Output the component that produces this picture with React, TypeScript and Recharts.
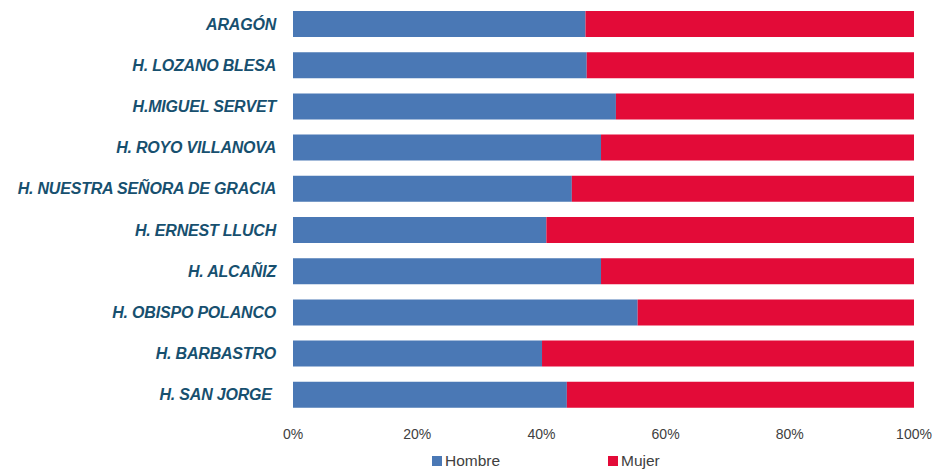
import React from 'react';
import { BarChart, Bar, XAxis, YAxis, Legend } from 'recharts';

const hospitals = [
  'ARAGÓN',
  'H. LOZANO BLESA',
  'H.MIGUEL SERVET',
  'H. ROYO VILLANOVA',
  'H. NUESTRA SEÑORA DE GRACIA',
  'H. ERNEST LLUCH',
  'H. ALCAÑIZ',
  'H. OBISPO POLANCO',
  'H. BARBASTRO',
  'H. SAN JORGE ',
];

const hombrePct = [47.1, 47.3, 52.0, 49.6, 44.9, 40.8, 49.6, 55.5, 40.1, 44.1];
const mujerPct = hombrePct.map((v) => Math.round((100 - v) * 10) / 10);

const xTicks = [0, 20, 40, 60, 80, 100];

const data = hospitals.map((name, i) => ({
  name,
  Hombre: hombrePct[i],
  Mujer: mujerPct[i],
}));

const BLUE = '#4a78b5';
const RED = '#e30b38';
const LABEL = '#17506f';
const FONT = '"Liberation Sans", Arial, sans-serif';

const HospitalTick = (props: any) => {
  const { x, y, payload } = props;
  return (
    <text
      x={x}
      y={y}
      dy={6}
      textAnchor="end"
      fill={LABEL}
      fontFamily={FONT}
      fontSize={16}
      fontWeight="bold"
      fontStyle="italic"
      letterSpacing={-0.2}
      style={{ whiteSpace: 'pre' }}
    >
      {payload.value}
    </text>
  );
};

const LegendContent = () => (
  <div style={{ position: 'relative', height: 25, fontFamily: FONT, fontSize: 15.5, color: '#404040' }}>
    {[
      { label: 'Hombre', color: BLUE, left: 432 },
      { label: 'Mujer', color: RED, left: 608 },
    ].map((item) => (
      <div key={item.label} style={{ position: 'absolute', left: item.left, top: 7, display: 'flex', alignItems: 'center' }}>
        <span style={{ display: 'inline-block', width: 10, height: 10, background: item.color, marginRight: 3 }} />
        <span>{item.label}</span>
      </div>
    ))}
  </div>
);

const App: React.FC = () => {
  return (
    <div style={{ position: 'absolute', left: 0, top: 0, width: 934, height: 470, background: '#fff' }}>
      <BarChart
        width={934}
        height={470}
        data={data}
        layout="vertical"
        stackOffset="expand"
        barSize={26}
        margin={{ top: 3, right: 20, left: 0, bottom: 0 }}
      >
        <XAxis
          type="number"
          domain={[0, 1]}
          ticks={xTicks.map((t) => t / 100)}
          tickFormatter={(v: number) => `${Math.round(v * 100)}%`}
          axisLine={false}
          tickLine={false}
          tick={{ fill: '#404040', fontSize: 14, fontFamily: FONT }}
          tickMargin={8}
          height={30}
        />
        <YAxis
          type="category"
          dataKey="name"
          width={293}
          axisLine={false}
          tickLine={false}
          tickSize={0}
          tickMargin={17}
          interval={0}
          tick={<HospitalTick />}
        />
        <Legend verticalAlign="bottom" height={25} content={<LegendContent />} wrapperStyle={{ left: 0, width: 934 }} />
        <Bar dataKey="Hombre" stackId="a" fill={BLUE} isAnimationActive={false} />
        <Bar dataKey="Mujer" stackId="a" fill={RED} isAnimationActive={false} />
      </BarChart>
    </div>
  );
};

export default App;
